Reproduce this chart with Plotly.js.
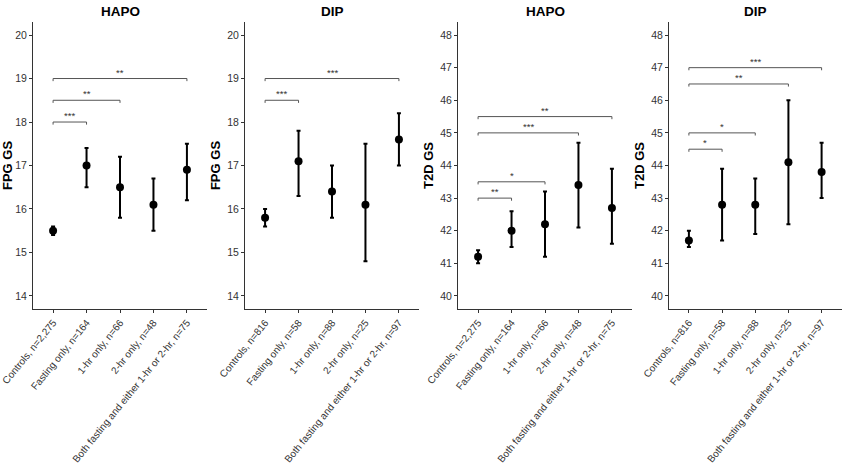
<!DOCTYPE html>
<html>
<head>
<meta charset="utf-8">
<script src="https://cdn.plot.ly/plotly-3.0.1.min.js"></script>
<style>html,body{margin:0;padding:0;background:#fff;}#chart{width:842px;height:469px;}</style>
</head>
<body>
<div id="chart"></div>
<script>
// ---- Data ----
const hapoCats = ["Controls, n=2,275", "Fasting only, n=164", "1-hr only, n=66", "2-hr only, n=48", "Both fasting and either 1-hr or 2-hr, n=75"];
const dipCats  = ["Controls, n=816", "Fasting only, n=58", "1-hr only, n=88", "2-hr only, n=25", "Both fasting and either 1-hr or 2-hr, n=97"];
const panelTitles = ["HAPO", "DIP", "HAPO", "DIP"];
const yTitles = ["FPG GS", "FPG GS", "T2D GS", "T2D GS"];

// FPG GS, HAPO
const fpgHapoMean = [15.5, 17.0, 16.5, 16.1, 16.9];
const fpgHapoLow  = [15.4, 16.5, 15.8, 15.5, 16.2];
const fpgHapoHigh = [15.6, 17.4, 17.2, 16.7, 17.5];
const fpgHapoSigTo = [1, 2, 4];
const fpgHapoSigY  = [18.0, 18.5, 19.0];
const fpgHapoSigLabel = ["***", "**", "**"];

// FPG GS, DIP
const fpgDipMean = [15.8, 17.1, 16.4, 16.1, 17.6];
const fpgDipLow  = [15.6, 16.3, 15.8, 14.8, 17.0];
const fpgDipHigh = [16.0, 17.8, 17.0, 17.5, 18.2];
const fpgDipSigTo = [1, 4];
const fpgDipSigY  = [18.5, 19.0];
const fpgDipSigLabel = ["***", "***"];

// T2D GS, HAPO
const t2dHapoMean = [41.2, 42.0, 42.2, 43.4, 42.7];
const t2dHapoLow  = [41.0, 41.5, 41.2, 42.1, 41.6];
const t2dHapoHigh = [41.4, 42.6, 43.2, 44.7, 43.9];
const t2dHapoSigTo = [1, 2, 3, 4];
const t2dHapoSigY  = [43.0, 43.5, 45.0, 45.5];
const t2dHapoSigLabel = ["**", "*", "***", "**"];

// T2D GS, DIP
const t2dDipMean = [41.7, 42.8, 42.8, 44.1, 43.8];
const t2dDipLow  = [41.5, 41.7, 41.9, 42.2, 43.0];
const t2dDipHigh = [42.0, 43.9, 43.6, 46.0, 44.7];
const t2dDipSigTo = [1, 2, 3, 4];
const t2dDipSigY  = [44.5, 45.0, 46.5, 47.0];
const t2dDipSigLabel = ["*", "*", "**", "***"];

const fpgRange = [13.7, 20.3];
const t2dRange = [39.6, 48.4];

// ---- Build ----
const panels = [
  {cats: hapoCats, mean: fpgHapoMean, low: fpgHapoLow, high: fpgHapoHigh, to: fpgHapoSigTo, lev: fpgHapoSigY, lab: fpgHapoSigLabel, range: fpgRange, tip: 0.06},
  {cats: dipCats,  mean: fpgDipMean,  low: fpgDipLow,  high: fpgDipHigh,  to: fpgDipSigTo,  lev: fpgDipSigY,  lab: fpgDipSigLabel,  range: fpgRange, tip: 0.06},
  {cats: hapoCats, mean: t2dHapoMean, low: t2dHapoLow, high: t2dHapoHigh, to: t2dHapoSigTo, lev: t2dHapoSigY, lab: t2dHapoSigLabel, range: t2dRange, tip: 0.08},
  {cats: dipCats,  mean: t2dDipMean,  low: t2dDipLow,  high: t2dDipHigh,  to: t2dDipSigTo,  lev: t2dDipSigY,  lab: t2dDipSigLabel,  range: t2dRange, tip: 0.08}
];

const W = 842, H = 469;
const xDomPx = [[33, 207], [245, 419], [458, 632], [669, 841.5]];
const yDom = [(H - 309) / H, (H - 22) / H];
const font = "Liberation Sans, Arial, sans-serif";

const traces = [];
const annotations = [];
const layout = {
  width: W, height: H,
  margin: {l: 0, r: 0, t: 0, b: 0},
  paper_bgcolor: "#fff", plot_bgcolor: "#fff",
  showlegend: false,
  font: {family: font, color: "#333"},
  annotations: annotations
};

panels.forEach((p, i) => {
  const n = i === 0 ? "" : String(i + 1);
  const xa = "x" + n, ya = "y" + n;

  // significance brackets
  p.to.forEach((t, k) => {
    traces.push({
      type: "scatter", mode: "lines", xaxis: xa, yaxis: ya,
      x: [p.cats[0], p.cats[0], p.cats[t], p.cats[t]],
      y: [p.lev[k] - p.tip, p.lev[k], p.lev[k], p.lev[k] - p.tip],
      line: {color: "#555", width: 1}, hoverinfo: "skip"
    });
    annotations.push({
      xref: xa, yref: ya, x: t / 2, y: p.lev[k],
      text: p.lab[k], showarrow: false, xanchor: "center", yanchor: "bottom",
      font: {family: font, size: 9.5, color: "#333"}, yshift: -1
    });
  });

  // mean + CI
  traces.push({
    type: "scatter", mode: "markers", xaxis: xa, yaxis: ya,
    x: p.cats, y: p.mean,
    marker: {color: "#000", size: 8},
    error_y: {
      type: "data", symmetric: false,
      array: p.high.map((h, j) => h - p.mean[j]),
      arrayminus: p.low.map((l, j) => p.mean[j] - l),
      color: "#000", thickness: 2, width: 2
    }
  });

  layout["xaxis" + n] = {
    domain: [xDomPx[i][0] / W, xDomPx[i][1] / W], anchor: ya,
    type: "category", categoryorder: "array", categoryarray: p.cats, range: [-0.6, 4.6],
    showline: true, linecolor: "#333", linewidth: 1,
    ticks: "outside", ticklen: 3, tickcolor: "#333", tickwidth: 1,
    tickangle: -51, tickfont: {family: font, size: 10, color: "#333333"},
    showgrid: false, zeroline: false, fixedrange: true
  };
  layout["yaxis" + n] = {
    domain: yDom, anchor: xa, range: p.range, dtick: 1,
    showline: true, linecolor: "#333", linewidth: 1,
    ticks: "outside", ticklen: 3, tickcolor: "#333", tickwidth: 1,
    tickfont: {family: font, size: 10.5, color: "#333333"},
    showgrid: false, zeroline: false, fixedrange: true,
    title: {text: yTitles[i], font: {family: font, size: 13, color: "#000", weight: "bold"}, standoff: 3}
  };

  annotations.push({
    xref: xa + " domain", yref: "paper", x: 0.5, y: (H - 11) / H,
    text: "<b>" + panelTitles[i] + "</b>", showarrow: false,
    xanchor: "center", yanchor: "middle",
    font: {family: font, size: 13.5, color: "#000"}
  });
});

Plotly.newPlot("chart", traces, layout, {displayModeBar: false, staticPlot: true});
</script>
</body>
</html>
